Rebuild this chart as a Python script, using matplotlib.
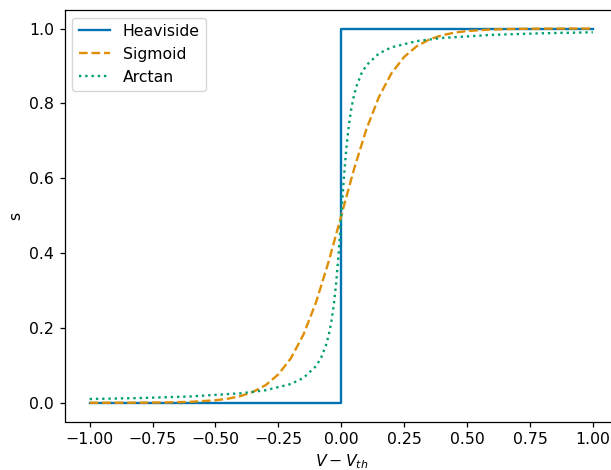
import matplotlib
matplotlib.use("Agg")
import matplotlib.pyplot as plt

# Heaviside step
heaviside_x = [-1.0, 0.0, 0.0, 1.0]
heaviside_y = [0.0, 0.0, 1.0, 1.0]

# Sigmoid surrogate
sigmoid_x = [-1.0, -0.9, -0.8, -0.7, -0.6, -0.5, -0.45, -0.4, -0.35, -0.3, -0.25,
             -0.2, -0.15, -0.1, -0.05, 0.0, 0.05, 0.1, 0.15, 0.2, 0.25, 0.3,
             0.35, 0.4, 0.45, 0.5, 0.6, 0.7, 0.8, 0.9, 1.0]
sigmoid_y = [0.00005, 0.00012, 0.00034, 0.0009, 0.0025, 0.0067, 0.011, 0.018, 0.0293,
             0.0474, 0.0759, 0.1192, 0.1824, 0.2689, 0.3775, 0.5, 0.6225, 0.7311,
             0.8176, 0.8808, 0.9241, 0.9526, 0.9707, 0.982, 0.989, 0.9933, 0.9975,
             0.9991, 0.99966, 0.99988, 0.99995]

# Arctan surrogate
arctan_x = [-1.0, -0.8, -0.6, -0.4, -0.3, -0.2, -0.15, -0.1, -0.08, -0.06, -0.05,
            -0.04, -0.03, -0.02, -0.01, 0.0, 0.01, 0.02, 0.03, 0.04, 0.05, 0.06,
            0.08, 0.1, 0.15, 0.2, 0.3, 0.4, 0.6, 0.8, 1.0]
arctan_y = [0.0101, 0.0127, 0.0169, 0.0253, 0.0336, 0.0502, 0.0666, 0.0981, 0.1205,
            0.1552, 0.1805, 0.214, 0.2594, 0.3214, 0.4031, 0.5, 0.5969, 0.6786,
            0.7406, 0.786, 0.8195, 0.8448, 0.8795, 0.9019, 0.9334, 0.9498, 0.9664,
            0.9747, 0.9831, 0.9873, 0.9899]

colors = ["#0173B2", "#DE8F05", "#029E73"]

s = 1.13
plt.rcParams.update({
    "font.size": 10 * s,
    "axes.linewidth": 0.8 * s,
    "xtick.major.size": 3.5 * s,
    "ytick.major.size": 3.5 * s,
    "xtick.major.width": 0.8 * s,
    "ytick.major.width": 0.8 * s,
    "legend.fontsize": 10 * s,
})

fig = plt.figure(figsize=(6.11, 4.70), dpi=100)
ax = fig.add_axes([64.5 / 611, 48.5 / 470, 553.5 / 611, 411.7 / 470])

lw = 1.5 * s
ax.plot(heaviside_x, heaviside_y, color=colors[0], linestyle="-", lw=lw, label="Heaviside")
ax.plot(sigmoid_x, sigmoid_y, color=colors[1], linestyle="--", lw=lw, label="Sigmoid")
ax.plot(arctan_x, arctan_y, color=colors[2], linestyle=":", lw=lw, label="Arctan")

ax.set_xlim(-1.1, 1.1)
ax.set_ylim(-0.05, 1.05)
ax.set_xticks([-1.0, -0.75, -0.5, -0.25, 0.0, 0.25, 0.5, 0.75, 1.0])
ax.set_yticks([0.0, 0.2, 0.4, 0.6, 0.8, 1.0])
ax.set_xlabel("$V - V_{th}$")
ax.set_ylabel("s")
ax.legend(loc="upper left")

fig.savefig("out.png", dpi=100)
